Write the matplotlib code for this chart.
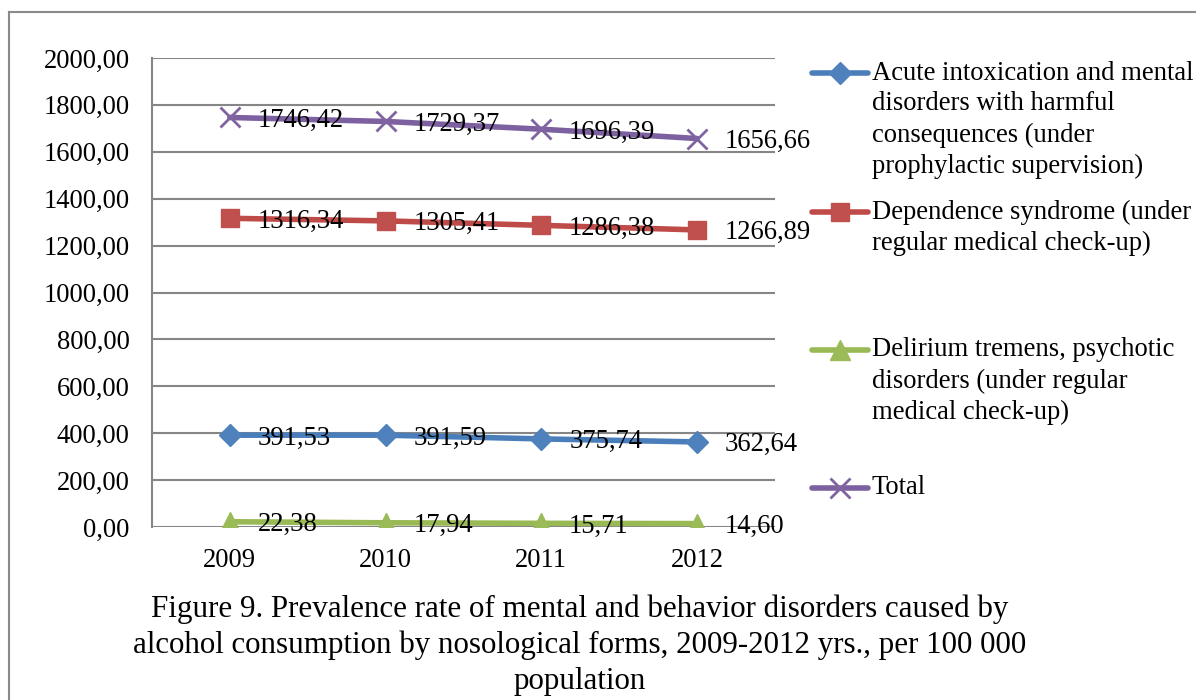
import matplotlib
matplotlib.use("Agg")
import matplotlib.pyplot as plt
from matplotlib.lines import Line2D

years = ["2009", "2010", "2011", "2012"]
acute = [391.53, 391.59, 375.74, 362.64]
dependence = [1316.34, 1305.41, 1286.38, 1266.89]
delirium = [22.38, 17.94, 15.71, 14.60]
total = [1746.42, 1729.37, 1696.39, 1656.66]

series_names = [
    ["Acute intoxication and mental", "disorders with harmful",
     "consequences (under", "prophylactic supervision)"],
    ["Dependence syndrome (under", "regular medical check-up)"],
    ["Delirium tremens, psychotic", "disorders (under regular",
     "medical check-up)"],
    ["Total"],
]
y_ticks = [0, 200, 400, 600, 800, 1000, 1200, 1400, 1600, 1800, 2000]
caption = ["Figure 9. Prevalence rate of mental and behavior disorders caused by",
           "alcohol consumption by nosological forms, 2009-2012 yrs., per 100 000",
           "population"]

W, H = 1196, 700
FONT = "Liberation Serif"
FS = 19.2

plt.rcParams["font.family"] = [FONT, "DejaVu Serif"]

fig = plt.figure(figsize=(W / 100, H / 100), dpi=100)

# outer frame (top and left edges)
fig.add_artist(Line2D([9 / W, 9 / W], [0, 1 - 12 / H], transform=fig.transFigure,
                      color="#8a8a8a", lw=1.5))
fig.add_artist(Line2D([9 / W, 1], [1 - 12 / H, 1 - 12 / H], transform=fig.transFigure,
                      color="#8a8a8a", lw=1.5))

ax = fig.add_axes([152 / W, 1 - 527 / H, (775 - 152) / W, (527 - 58) / H])

styles = [
    dict(data=acute, color="#4A7EBB", mcolor="#4F81BD", marker="D", ms=11),
    dict(data=dependence, color="#BE4B48", mcolor="#C0504D", marker="s", ms=13),
    dict(data=delirium, color="#98B954", mcolor="#9BBB59", marker="^", ms=15),
    dict(data=total, color="#7D60A0", mcolor="#8064A2", marker="x", ms=14),
]

x = list(range(len(years)))
for st in styles:
    ax.plot(x, st["data"], color=st["color"], lw=4, marker=st["marker"],
            ms=st["ms"], mfc=st["mcolor"], mec=st["mcolor"], mew=2 if st["marker"] == "x" else 1,
            solid_capstyle="round", zorder=3)
    for xi, v in zip(x, st["data"]):
        label = f"{v:.2f}".replace(".", ",")
        ax.annotate(label, (xi, v), xytext=(20, -2), textcoords="offset points",
                    ha="left", va="center", fontsize=FS, fontfamily=FONT,
                    color="black", zorder=5, annotation_clip=False)

ax.set_xlim(-0.5, 3.5)
ax.set_ylim(0, 2000)
ax.set_xticks(x)
ax.set_xticklabels(years, fontsize=FS, fontfamily=FONT)
ax.set_yticks(y_ticks)
ax.set_yticklabels([f"{t:.2f}".replace(".", ",") for t in y_ticks],
                   fontsize=FS, fontfamily=FONT)
ax.tick_params(axis="both", length=0)
ax.tick_params(axis="y", pad=16)
ax.tick_params(axis="x", pad=15)
ax.grid(axis="y", color="#868686", lw=1.5)
ax.set_axisbelow(True)
for side in ["top", "right", "bottom"]:
    ax.spines[side].set_visible(False)
ax.spines["left"].set_color("#868686")
ax.spines["left"].set_linewidth(1.5)

# legend drawn beside the plot
legend_y = [73, 212, 350, 488]
line_gap = 31
for st, names, y0 in zip(styles, series_names, legend_y):
    yf = 1 - y0 / H
    fig.add_artist(Line2D([812 / W, 868 / W], [yf, yf], transform=fig.transFigure,
                          color=st["color"], lw=4, solid_capstyle="round"))
    fig.add_artist(Line2D([840 / W], [yf], transform=fig.transFigure,
                          marker=st["marker"], ms=st["ms"], mfc=st["mcolor"],
                          mec=st["mcolor"], mew=2 if st["marker"] == "x" else 1,
                          linestyle="none"))
    for i, name in enumerate(names):
        fig.text(872 / W, 1 - (y0 + i * line_gap) / H, name, ha="left",
                 va="center", fontsize=FS, fontfamily=FONT)

cap_y = [609, 645, 682]
for line, cy in zip(caption, cap_y):
    fig.text(580 / W, 1 - cy / H, line, ha="center", va="center",
             fontsize=22.3, fontfamily=FONT)

fig.savefig("out.png", dpi=100)
